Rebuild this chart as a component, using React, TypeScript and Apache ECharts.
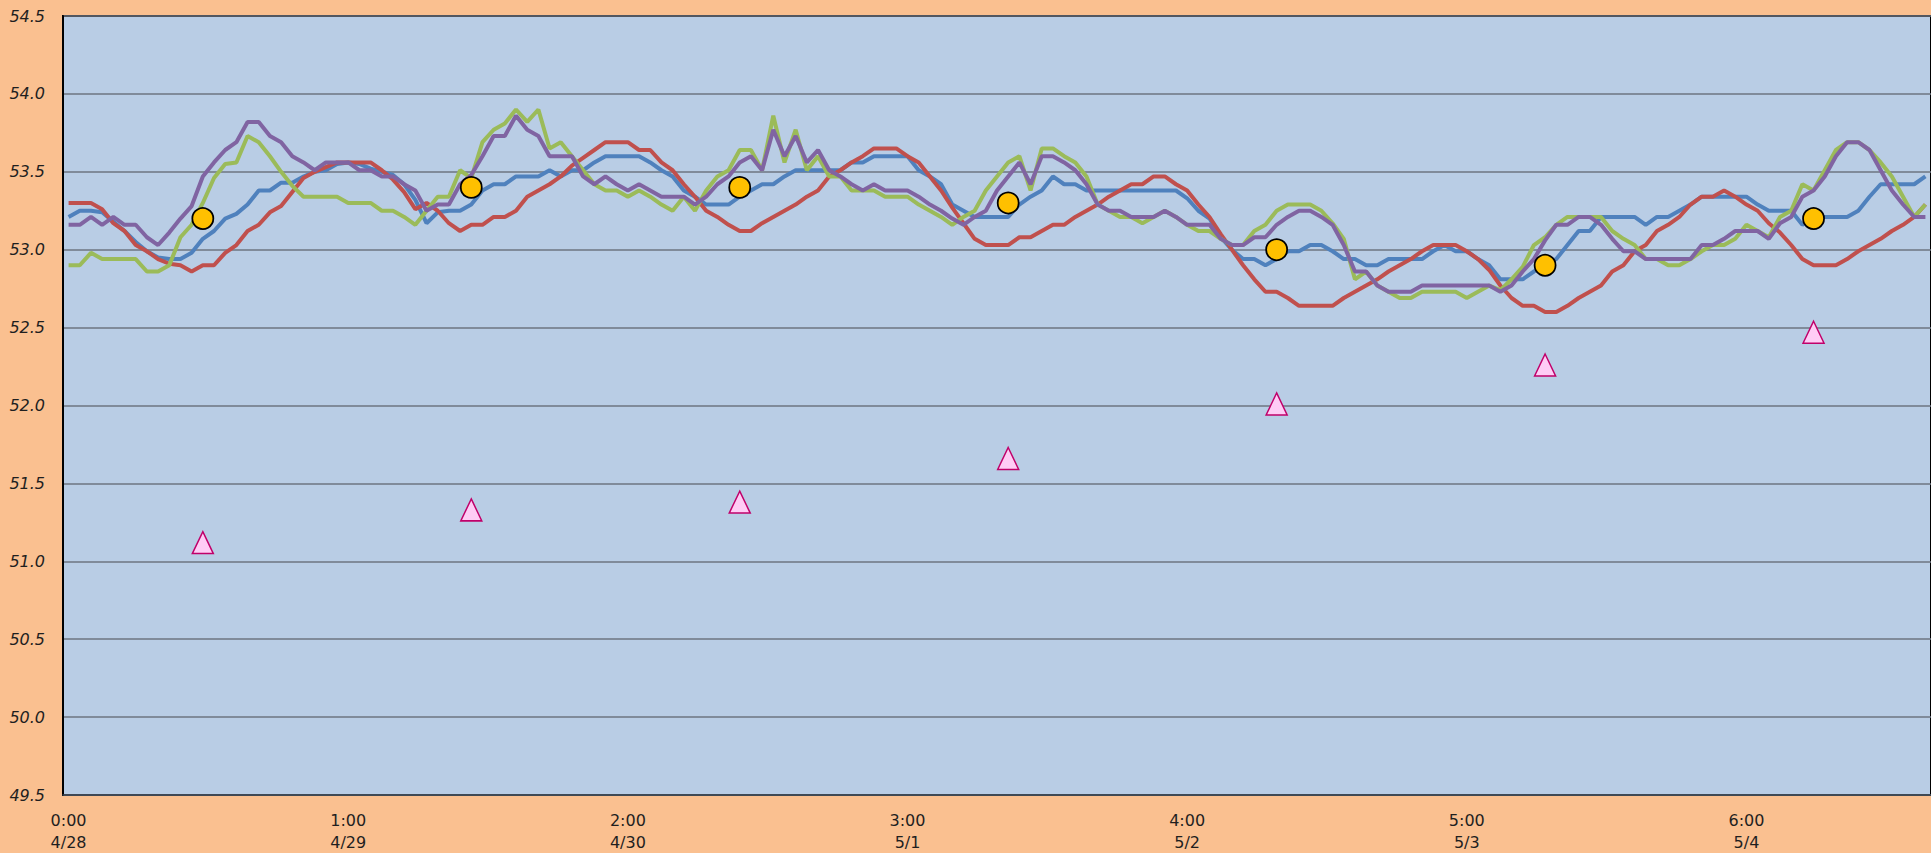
import React, { useEffect, useRef } from "react";
import * as echarts from "echarts";

// Tick labels shown every 25 hourly points
const tickLabels = ["0:00\n4/28", "1:00\n4/29", "2:00\n4/30", "3:00\n5/1", "4:00\n5/2", "5:00\n5/3", "6:00\n5/4"];

const blue = [
  53.21, 53.25, 53.25, 53.24, 53.18, 53.12, 53.05, 52.99, 52.95, 52.94,
  52.94, 52.98, 53.07, 53.12, 53.20, 53.23, 53.29, 53.38, 53.38, 53.43,
  53.43, 53.47, 53.50, 53.51, 53.55, 53.56, 53.55, 53.52, 53.50, 53.48,
  53.42, 53.32, 53.17, 53.24, 53.25, 53.25, 53.29, 53.38, 53.42, 53.42,
  53.47, 53.47, 53.47, 53.51, 53.47, 53.51, 53.51, 53.56, 53.60, 53.60,
  53.60, 53.60, 53.56, 53.51, 53.47, 53.38, 53.34, 53.29, 53.29, 53.29,
  53.34, 53.38, 53.42, 53.42, 53.47, 53.51, 53.51, 53.51, 53.51, 53.51,
  53.56, 53.56, 53.60, 53.60, 53.60, 53.60, 53.51, 53.47, 53.42, 53.29,
  53.25, 53.21, 53.21, 53.21, 53.21, 53.29, 53.34, 53.38, 53.47, 53.42,
  53.42, 53.38, 53.38, 53.38, 53.38, 53.38, 53.38, 53.38, 53.38, 53.38,
  53.33, 53.25, 53.20, 53.08, 53.00, 52.94, 52.94, 52.90, 52.94, 52.99,
  52.99, 53.03, 53.03, 52.99, 52.94, 52.94, 52.90, 52.90, 52.94, 52.94,
  52.94, 52.94, 52.99, 53.03, 52.99, 52.99, 52.94, 52.90, 52.81, 52.81,
  52.81, 52.86, 52.90, 52.94, 53.03, 53.12, 53.12, 53.21, 53.21, 53.21,
  53.21, 53.16, 53.21, 53.21, 53.25, 53.29, 53.34, 53.34, 53.34, 53.34,
  53.34, 53.29, 53.25, 53.25, 53.25, 53.16, 53.20, 53.21, 53.21, 53.21,
  53.25, 53.34, 53.42, 53.42, 53.42, 53.42, 53.47,
];

const red = [
  53.30, 53.30, 53.30, 53.26, 53.17, 53.12, 53.03, 52.99, 52.94, 52.91,
  52.90, 52.86, 52.90, 52.90, 52.98, 53.03, 53.12, 53.16, 53.24, 53.28,
  53.37, 53.46, 53.50, 53.53, 53.56, 53.56, 53.56, 53.56, 53.51, 53.45,
  53.37, 53.26, 53.30, 53.25, 53.17, 53.12, 53.16, 53.16, 53.21, 53.21,
  53.25, 53.34, 53.38, 53.42, 53.47, 53.54, 53.59, 53.64, 53.69, 53.69,
  53.69, 53.64, 53.64, 53.56, 53.51, 53.42, 53.34, 53.25, 53.21, 53.16,
  53.12, 53.12, 53.17, 53.21, 53.25, 53.29, 53.34, 53.38, 53.47, 53.51,
  53.56, 53.60, 53.65, 53.65, 53.65, 53.60, 53.56, 53.47, 53.38, 53.27,
  53.17, 53.07, 53.03, 53.03, 53.03, 53.08, 53.08, 53.12, 53.16, 53.16,
  53.21, 53.25, 53.29, 53.34, 53.38, 53.42, 53.42, 53.47, 53.47, 53.42,
  53.38, 53.29, 53.21, 53.10, 53.00, 52.90, 52.81, 52.73, 52.73, 52.69,
  52.64, 52.64, 52.64, 52.64, 52.69, 52.73, 52.77, 52.81, 52.86, 52.90,
  52.94, 52.99, 53.03, 53.03, 53.03, 52.99, 52.94, 52.87, 52.77, 52.69,
  52.64, 52.64, 52.60, 52.60, 52.64, 52.69, 52.73, 52.77, 52.86, 52.90,
  52.99, 53.03, 53.12, 53.16, 53.21, 53.29, 53.34, 53.34, 53.38, 53.34,
  53.29, 53.25, 53.17, 53.11, 53.03, 52.94, 52.90, 52.90, 52.90, 52.94,
  52.99, 53.03, 53.07, 53.12, 53.16, 53.21, 53.29,
];

const green = [
  52.90, 52.90, 52.98, 52.94, 52.94, 52.94, 52.94, 52.86, 52.86, 52.90,
  53.08, 53.16, 53.30, 53.46, 53.55, 53.56, 53.73, 53.69, 53.60, 53.50,
  53.41, 53.34, 53.34, 53.34, 53.34, 53.30, 53.30, 53.30, 53.25, 53.25,
  53.21, 53.16, 53.25, 53.34, 53.34, 53.51, 53.46, 53.69, 53.77, 53.81,
  53.90, 53.82, 53.90, 53.65, 53.69, 53.60, 53.51, 53.42, 53.38, 53.38,
  53.34, 53.38, 53.34, 53.29, 53.25, 53.34, 53.25, 53.38, 53.47, 53.51,
  53.64, 53.64, 53.51, 53.86, 53.56, 53.77, 53.51, 53.60, 53.47, 53.47,
  53.38, 53.38, 53.38, 53.34, 53.34, 53.34, 53.29, 53.25, 53.21, 53.16,
  53.21, 53.25, 53.38, 53.47, 53.56, 53.60, 53.38, 53.65, 53.65, 53.60,
  53.56, 53.47, 53.29, 53.25, 53.21, 53.21, 53.17, 53.21, 53.25, 53.21,
  53.16, 53.12, 53.12, 53.07, 53.03, 53.03, 53.12, 53.16, 53.25, 53.29,
  53.29, 53.29, 53.25, 53.17, 53.07, 52.81, 52.86, 52.77, 52.73, 52.69,
  52.69, 52.73, 52.73, 52.73, 52.73, 52.69, 52.73, 52.77, 52.74, 52.81,
  52.89, 53.03, 53.08, 53.16, 53.21, 53.21, 53.21, 53.21, 53.12, 53.07,
  53.03, 52.94, 52.94, 52.90, 52.90, 52.94, 52.99, 53.03, 53.03, 53.07,
  53.16, 53.12, 53.08, 53.21, 53.25, 53.42, 53.38, 53.51, 53.64, 53.69,
  53.69, 53.64, 53.56, 53.47, 53.34, 53.21, 53.29,
];

const purple = [
  53.16, 53.16, 53.21, 53.16, 53.21, 53.16, 53.16, 53.08, 53.03, 53.11,
  53.20, 53.28, 53.47, 53.56, 53.64, 53.69, 53.82, 53.82, 53.73, 53.69,
  53.60, 53.56, 53.51, 53.56, 53.56, 53.56, 53.51, 53.51, 53.47, 53.47,
  53.42, 53.38, 53.25, 53.29, 53.29, 53.42, 53.48, 53.60, 53.73, 53.73,
  53.86, 53.77, 53.73, 53.60, 53.60, 53.60, 53.47, 53.42, 53.47, 53.42,
  53.38, 53.42, 53.38, 53.34, 53.34, 53.34, 53.29, 53.34, 53.42, 53.47,
  53.56, 53.60, 53.51, 53.77, 53.60, 53.73, 53.56, 53.64, 53.51, 53.47,
  53.42, 53.38, 53.42, 53.38, 53.38, 53.38, 53.34, 53.29, 53.25, 53.20,
  53.16, 53.21, 53.25, 53.38, 53.47, 53.56, 53.42, 53.60, 53.60, 53.56,
  53.51, 53.42, 53.29, 53.25, 53.25, 53.21, 53.21, 53.21, 53.25, 53.21,
  53.16, 53.16, 53.16, 53.07, 53.03, 53.03, 53.08, 53.08, 53.16, 53.21,
  53.25, 53.25, 53.21, 53.16, 53.03, 52.86, 52.86, 52.77, 52.73, 52.73,
  52.73, 52.77, 52.77, 52.77, 52.77, 52.77, 52.77, 52.77, 52.73, 52.77,
  52.86, 52.94, 53.06, 53.16, 53.16, 53.21, 53.21, 53.16, 53.07, 52.99,
  52.99, 52.94, 52.94, 52.94, 52.94, 52.94, 53.03, 53.03, 53.07, 53.12,
  53.12, 53.12, 53.07, 53.17, 53.21, 53.34, 53.38, 53.47, 53.60, 53.69,
  53.69, 53.64, 53.51, 53.38, 53.29, 53.21, 53.21,
];

// Daily noon markers
const markerIndex = [12, 36, 60, 84, 108, 132, 156];
const circleValues = [53.2, 53.4, 53.4, 53.3, 53.0, 52.9, 53.2];
const triangleValues = [51.12, 51.33, 51.38, 51.66, 52.01, 52.26, 52.47];

const categories = blue.map((_, i) => String(i));

export default function App() {
  const ref = useRef<HTMLDivElement>(null);

  useEffect(() => {
    if (!ref.current) return;
    const chart = echarts.init(ref.current, null, { renderer: "svg" });
    const lineSeries = (data: number[], color: string) => ({
      type: "line",
      data,
      symbol: "none",
      lineStyle: { color, width: 4 },
      itemStyle: { color },
      z: 3,
    });
    chart.setOption({
      animation: false,
      backgroundColor: "#FAC090",
      textStyle: { fontFamily: "DejaVu Sans" },
      grid: {
        left: 63,
        top: 16,
        width: categories.length * 11.2,
        bottom: 58,
        show: true,
        backgroundColor: "#B9CDE5",
        borderColor: "#000000",
        borderWidth: 2,
        containLabel: false,
      },
      xAxis: {
        type: "category",
        data: categories,
        boundaryGap: true,
        axisLine: { show: true, lineStyle: { color: "#3a4450", width: 1.5 } },
        axisTick: { show: false },
        splitLine: { show: false },
        axisLabel: {
          interval: 24,
          color: "#1f1f1f",
          fontSize: 16,
          lineHeight: 22,
          margin: 14,
          fontFamily: "DejaVu Sans",
          formatter: (_v: string, idx: number) => tickLabels[Math.round(idx / 25)] ?? "",
        },
      },
      yAxis: {
        type: "value",
        min: 49.5,
        max: 54.5,
        interval: 0.5,
        axisLine: { show: true, lineStyle: { color: "#000000", width: 2 } },
        axisTick: { show: false },
        splitLine: { show: true, lineStyle: { color: "#6E7580", width: 1.5 } },
        axisLabel: {
          color: "#1f1f1f",
          fontSize: 16,
          fontStyle: "italic",
          margin: 18,
          fontFamily: "DejaVu Sans",
          formatter: (v: number) => v.toFixed(1),
        },
      },
      series: [
        lineSeries(blue, "#4F81BD"),
        lineSeries(red, "#C0504D"),
        lineSeries(green, "#9BBB59"),
        lineSeries(purple, "#8064A2"),
        {
          type: "scatter",
          data: markerIndex.map((i, k) => [i, circleValues[k]]),
          symbol: "circle",
          symbolSize: 21,
          itemStyle: { color: "#FFC000", borderColor: "#000000", borderWidth: 1.75, opacity: 1 },
          z: 5,
        },
        {
          type: "scatter",
          data: markerIndex.map((i, k) => [i, triangleValues[k]]),
          symbol: "triangle",
          symbolSize: [21, 22],
          itemStyle: { color: "#FFCCF5", borderColor: "#C0006A", borderWidth: 1.5, opacity: 1 },
          z: 5,
        },
      ],
    });
    return () => chart.dispose();
  }, []);

  return (
    <div
      ref={ref}
      style={{ position: "fixed", left: 0, top: 0, width: "1931px", height: "853px" }}
    />
  );
}
